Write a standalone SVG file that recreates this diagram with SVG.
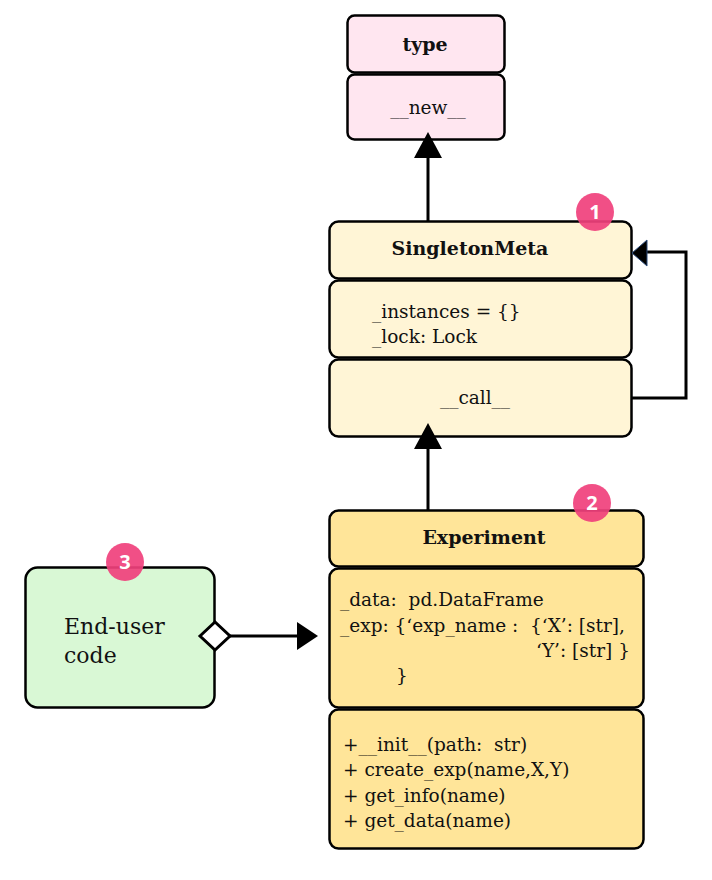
<svg xmlns="http://www.w3.org/2000/svg" width="712" height="880" viewBox="0 0 712 880">
<style>
.box{stroke:#000;stroke-width:2.5}
.pink{fill:#FFE6F0}
.cream{fill:#FFF5D6}
.gold{fill:#FFE599}
.green{fill:#D9F8D5}
.t{font-family:"DejaVu Serif","Liberation Serif",serif;font-size:18.5px;fill:#111;white-space:pre}
.b{font-weight:bold;font-size:19px}
.badge{fill:#F0407C;opacity:0.92}
.bt{font-family:"Open Sans","DejaVu Sans",sans-serif;font-weight:bold;font-size:20px;fill:#fff;text-anchor:middle}
.line{stroke:#000;stroke-width:3;fill:none}
.head{fill:#000}
</style>
<g id="type">
<rect class="box pink" x="347.5" y="15.5" width="157" height="57" rx="7"/>
<rect class="box pink" x="347.5" y="74.5" width="157" height="65" rx="7"/>
<text class="t b" x="425" y="51" text-anchor="middle">type</text>
<text class="t" x="428" y="114" text-anchor="middle">__new__</text>
</g>
<g id="singletonmeta">
<rect class="box cream" x="329.5" y="221.5" width="302" height="57" rx="9"/>
<rect class="box cream" x="329.5" y="280.5" width="302" height="77" rx="9"/>
<rect class="box cream" x="329.5" y="359.5" width="302" height="77" rx="9"/>
<text class="t b" x="470" y="255" text-anchor="middle">SingletonMeta</text>
<text class="t" x="372" y="318">_instances = {}</text>
<text class="t" x="372" y="343">_lock: Lock</text>
<text class="t" x="475" y="404" text-anchor="middle">__call__</text>
<circle class="badge" cx="595" cy="212" r="19"/>
<text class="bt" x="595" y="219">1</text>
</g>
<g id="experiment">
<rect class="box gold" x="329.5" y="510.5" width="314" height="56" rx="9"/>
<rect class="box gold" x="329.5" y="568.5" width="314" height="139" rx="9"/>
<rect class="box gold" x="329.5" y="709.5" width="314" height="139" rx="9"/>
<text class="t b" x="484" y="544" text-anchor="middle">Experiment</text>
<text class="t" x="340" y="606">_data:  pd.DataFrame</text>
<text class="t" x="340" y="632">_exp: {‘exp_name :  {‘X’: [str],</text>
<text class="t" x="536" y="657">‘Y’: [str] }</text>
<text class="t" x="396" y="682">}</text>
<text class="t" x="343" y="751">+__init__(path:  str)</text>
<text class="t" x="343" y="776">+ create_exp(name,X,Y)</text>
<text class="t" x="343" y="802">+ get_info(name)</text>
<text class="t" x="343" y="827">+ get_data(name)</text>
<circle class="badge" cx="592" cy="503" r="19"/>
<text class="bt" x="592" y="510">2</text>
</g>
<g id="enduser">
<rect class="box green" x="25.5" y="567.5" width="189" height="140" rx="12"/>
<text class="t" x="64" y="634" style="font-size:22px">End-user</text>
<text class="t" x="64" y="663" style="font-size:22px">code</text>
<circle class="badge" cx="125" cy="562" r="19"/>
<text class="bt" x="125" y="569">3</text>
</g>
<g id="connectors">
<line class="line" x1="428" y1="221" x2="428" y2="150"/>
<polygon class="head" points="428,132 414,158 442,158"/>
<line class="line" x1="428" y1="510" x2="428" y2="440"/>
<polygon class="head" points="428,423 414,449 442,449"/>
<polyline class="line" points="632,398 686,398 686,252 645,252"/>
<polygon class="head" points="632,253 647,240 647,266" stroke="#2a4a7a" stroke-width="1"/>
<line class="line" x1="230" y1="636" x2="300" y2="636"/>
<polygon points="200,636 215,622 230,636 215,650" fill="#fff" stroke="#000" stroke-width="3"/>
<polygon class="head" points="318,636 297,622 297,650"/>
</g>
</svg>
